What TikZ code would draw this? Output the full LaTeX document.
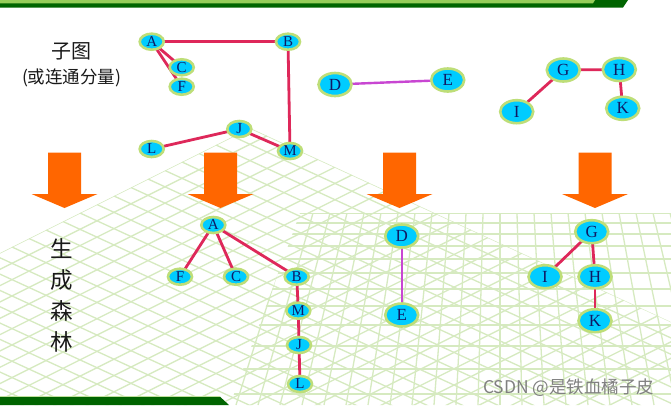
\documentclass[tikz,border=0pt]{standalone}
\usepackage{fontspec}
\setmainfont{Liberation Serif}
\newfontfamily\cjk{Noto Sans CJK SC}
\usetikzlibrary{shapes.geometric}
\definecolor{gridg}{RGB}{214,234,192}
\definecolor{nodefill}{RGB}{0,204,255}
\definecolor{nodeline}{RGB}{190,222,120}
\definecolor{edgered}{RGB}{222,40,90}
\definecolor{edgepurple}{RGB}{200,70,210}
\definecolor{arroworange}{RGB}{255,102,0}
\definecolor{darkg}{RGB}{0,100,0}
\definecolor{lightg}{RGB}{150,205,90}
\definecolor{lettercol}{RGB}{15,25,100}
\definecolor{textcol}{RGB}{25,25,25}
\pgfdeclarelayer{bg}
\pgfdeclarelayer{edges}
\pgfsetlayers{bg,edges,main}
\begin{document}
\begin{tikzpicture}[x=1pt,y=-1pt,
 vnode/.style={ellipse, draw=nodeline, line width=2.6pt, fill=nodefill, inner sep=0pt, text=lettercol},
 small/.style={vnode, minimum width=24pt, minimum height=16pt, font=\fontsize{15}{15}\selectfont},
 big/.style={vnode, minimum width=33pt, minimum height=23pt, font=\fontsize{17}{17}\selectfont},
 redge/.style={draw=edgered, line width=2.8pt},
 pedge/.style={draw=edgepurple, line width=2.4pt},
 bigarrow/.style={fill=arroworange, draw=none},
 gridline/.style={draw=gridg, line width=1.3pt},
 cjktext/.style={text=textcol, inner sep=0pt}]
\useasboundingbox (0,0) rectangle (671,405);

\begin{pgfonlayer}{bg}
\fill[white] (0,0) rectangle (671,405);
\begin{scope}
\clip (250,128) -- (0,253) -- (0,405) -- (671,405) -- (671,322) -- cycle;
\foreach \k in {0,...,28} { \draw[gridline] ({250+17*\k},{128+7.82*\k}) -- ++(-700,350); }
\foreach \k in {0,...,25} { \draw[gridline] ({250-17*\k},{128+8.5*\k}) -- ++(700,322); }
\end{scope}
\begin{scope}
\clip (300,213) -- (671,213) -- (671,405) -- (230,405) -- cycle;
\foreach \y in {213,223,234,246,259,273,289,306,325,346,369,394} { \draw[gridline] (200,\y) -- (671,\y); }
\foreach \k in {-14,...,11} { \draw[gridline] ({500+17*\k},213) -- ({500+22*\k},405); }
\end{scope}
\end{pgfonlayer}

% top and bottom bars
\fill[darkg] (0,0) -- (628,0) -- (623,7.5) -- (0,7.5) -- cycle;
\fill[lightg] (0,0) -- (595,0) -- (593,3.3) -- (0,3.3) -- cycle;
\fill[darkg] (0,396.7) -- (220,396.7) -- (229,405) -- (0,405) -- cycle;
\draw[lightg!60, line width=0.8pt] (0,396) -- (220,396);

% labels
\node[cjktext, font=\cjk\fontsize{20}{20}\selectfont] (t1) at (71.7,51.7) {子图};
\node[cjktext, font=\cjk\fontsize{17.5}{17.5}\selectfont] (t2) at (71.7,78.3) {(或连通分量)};
\node[cjktext, font=\cjk\fontsize{22.5}{31}\selectfont, align=center] (t3) at (61.7,295.5) {生\\成\\森\\林};
\node[anchor=west, text=black!50, inner sep=0pt, font=\cjk\fontsize{17.5}{17.5}\selectfont] (wm) at (483,388) {CSDN @是铁血橘子皮};

% arrows
\foreach \c in {64.5,220.5,399.5,595} {
 \fill[bigarrow] ({\c-16.5},152.7) -- ({\c+16.5},152.7) -- ({\c+16.5},194) -- ({\c+33},194) -- (\c,208) -- ({\c-33},194) -- ({\c-16.5},194) -- cycle;
}

% top graph
\node[small] (a1) at (151.7,41.7) {A};
\node[small] (b1) at (288,41.7) {B};
\node[small] (c1) at (181.7,67.3) {C};
\node[small] (f1) at (181.7,86.7) {F};
\node[small] (j1) at (239.3,129) {J};
\node[small] (l1) at (151.7,149) {L};
\node[small] (m1) at (290,151) {M};
\node[big] (d1) at (335,84.5) {D};
\node[big] (e1) at (447.7,80) {E};
\node[big] (g1) at (563.3,70) {G};
\node[big] (h1) at (619.3,69.5) {H};
\node[big] (i1) at (516.7,111.7) {I};
\node[big] (k1) at (622.7,108.3) {K};

% bottom forest
\node[small] (a2) at (213.3,225) {A};
\node[small] (f2) at (180,276.7) {F};
\node[small] (c2) at (236,276.7) {C};
\node[small] (b2) at (296.7,276.7) {B};
\node[small] (m2) at (298.3,310.7) {M};
\node[small] (j2) at (299,345) {J};
\node[small] (l2) at (300,384) {L};
\node[big] (d2) at (401.7,236) {D};
\node[big] (e2) at (401.7,315) {E};
\node[big] (g2) at (591.7,231.7) {G};
\node[big] (i2) at (545,276.7) {I};
\node[big] (h2) at (595,276.7) {H};
\node[big] (k2) at (595,320.7) {K};

\begin{pgfonlayer}{edges}
\draw[redge] (a1.center) -- (b1.center);
\draw[redge] (a1.center) -- (c1.center);
\draw[redge] (a1.center) -- (f1.center);
\draw[redge] (b1.center) -- (m1.center);
\draw[redge] (m1.center) -- (j1.center);
\draw[redge] (j1.center) -- (l1.center);
\draw[pedge] (d1.center) -- (e1.center);
\draw[redge] (g1.center) -- (h1.center);
\draw[redge] (g1.center) -- (i1.center);
\draw[redge] (h1.center) -- (k1.center);
\draw[redge] (a2.center) -- (f2.center);
\draw[redge] (a2.center) -- (c2.center);
\draw[redge] (a2.center) -- (b2.center);
\draw[redge] (b2.center) -- (m2.center);
\draw[redge] (m2.center) -- (j2.center);
\draw[redge] (j2.center) -- (l2.center);
\draw[pedge] (d2.center) -- (e2.center);
\draw[redge] (g2.center) -- (i2.center);
\draw[redge] (g2.center) -- (h2.center);
\draw[redge] (h2.center) -- (k2.center);
\end{pgfonlayer}
\end{tikzpicture}
\end{document}
